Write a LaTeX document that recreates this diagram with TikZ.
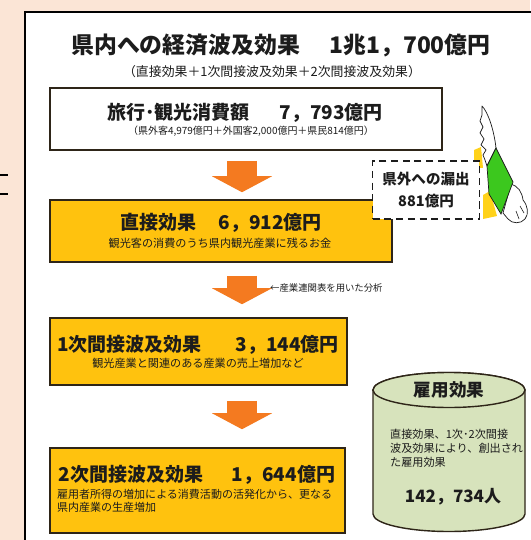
\documentclass[tikz,border=0pt]{standalone}
\usepackage{fontspec}
\setmainfont{Noto Sans CJK JP}
\usetikzlibrary{arrows.meta, positioning, calc}
\definecolor{peach}{HTML}{FBE5D6}
\definecolor{boxfill}{HTML}{FFC20E}
\definecolor{boxline}{HTML}{2E2518}
\definecolor{flowarrow}{HTML}{F47A20}
\definecolor{koyofill}{HTML}{D7E3BC}
\definecolor{moneygreen}{HTML}{3CC81E}
\definecolor{capeyellow}{HTML}{FFD21A}
\definecolor{ink}{HTML}{1C1C1C}

\begin{document}
\begin{tikzpicture}[x=0.03cm, y=-0.03cm, text=ink,
  box/.style={draw=boxline, line width=1.3pt, inner sep=0pt},
  big/.style={font=\bfseries\fontsize{16.2}{19}\selectfont},
  small/.style={font=\fontsize{9.5}{11}\selectfont},
  flow/.style={draw=flowarrow, line width=0.9cm,
    -{Triangle[width=1.8cm, length=0.48cm, line width=0pt]}},
  koyo/.style={draw=boxline, line width=1.2pt, fill=koyofill},
  wing/.style={fill=white, draw=ink, line width=0.6pt, line join=round}]
\useasboundingbox (0,0) rectangle (530,540);
\fill[peach] (0,0) rectangle (530,540);
\draw[line width=1.5pt] (0,175) -- (8,175) (0,194) -- (8,194);
\fill[white] (25,12) rectangle (560,560);
\draw[line width=1.8pt] (25,560) |- (560,12);

\node[font=\bfseries\fontsize{19.5}{22}\selectfont] (keizai) at (281,45) {県内への経済波及効果\hspace{1.3em}1兆1，700億円};
\node[font=\fontsize{11}{13}\selectfont] (uchiwake) at (272,72) {（直接効果＋1次間接波及効果＋2次間接波及効果）};

\node[box, fill=white, minimum width=11.76cm, minimum height=1.86cm] (shohi) at (246,119) {};
\node[big] (shohi-t) at (245,113) {旅行･観光消費額\hspace{1.6em}7，793億円};
\node[font=\fontsize{8.5}{10}\selectfont] (shohi-s) at (251,131) {（県外客4,979億円＋外国客2,000億円＋県民814億円）};

\node[box, fill=boxfill, minimum width=10.26cm, minimum height=1.86cm] (chokusetsu) at (221,231) {};
\node[big] (chokusetsu-t) at (221,223) {直接効果\hspace{1.2em}6，912億円};
\node[small] (chokusetsu-s) at (220,243) {観光客の消費のうち県内観光産業に残るお金};

\node[box, fill=boxfill, minimum width=8.91cm, minimum height=2.01cm] (ichiji) at (198.5,351.5) {};
\node[big] (ichiji-t) at (198,345) {1次間接波及効果\hspace{1.8em}3，144億円};
\node[small] (ichiji-s) at (198,363) {観光産業と関連のある産業の売上増加など};

\node[box, fill=boxfill, minimum width=8.85cm, minimum height=2.55cm] (niji) at (197.5,490.5) {};
\node[big] (niji-t) at (197,475) {2次間接波及効果\hspace{1.5em}1，644億円};
\node[small, anchor=west, align=left, font=\fontsize{9.4}{11}\selectfont] (niji-s) at (53,501) {雇用者所得の増加による消費活動の活発化から、更なる\\県内産業の生産増加};

\coordinate (spine) at (242,0);
\draw[flow, shorten <=0.3cm, shorten >=0.21cm] (shohi.south -| spine) -- (chokusetsu.north -| spine);
\draw[flow, shorten <=0.39cm, shorten >=0.39cm] (chokusetsu.south -| spine) -- (ichiji.north -| spine);
\draw[flow, shorten <=0.45cm, shorten >=0.54cm] (ichiji.south -| spine) -- (niji.north -| spine);
\node[anchor=west, font=\fontsize{8}{9}\selectfont] (bunseki) at (266,288) {←産業連関表を用いた分析};

\fill[capeyellow] (474,150) -- (481,147) -- (483,168) -- (474,168) -- cycle;
\fill[capeyellow] (483,195) -- (490,191) -- (497,216) -- (483,219) -- cycle;
\node[draw=ink, dashed, dash pattern=on 6pt off 4pt, fill=white, line width=1.3pt,
  minimum width=3.2cm, minimum height=1.74cm, align=center,
  font=\bfseries\fontsize{12.4}{18.5}\selectfont] (roshutsu) at (426,190) {県外への漏出\\881億円};

\filldraw[wing] (482,106) .. controls (488,112) and (494,130) .. (496,148) -- (487,166)
  -- (485,160) -- (483,155) -- (486,150) -- (481,145) -- (484,139) -- (480,133)
  -- (483,127) -- (480,121) -- (482,115) -- cycle;
\filldraw[wing] (511,184) .. controls (518,186) and (522,192) .. (523,200)
  .. controls (528,206) and (529,214) .. (525,219) .. controls (521,224) and (512,224) .. (508,219)
  -- (503,213) -- cycle;
\draw[ink, line width=0.5pt] (516,211) -- (519,219) (520,206) -- (524,213);
\filldraw[fill=moneygreen, draw=ink, line width=0.6pt] (496,148) -- (513,182) -- (501,214) -- (489,194) -- (487,166) -- cycle;

\filldraw[koyo] (373,390) -- (373,514) arc[start angle=180, end angle=360, x radius=2.28cm, y radius=0.525cm]
  -- (525,390) arc[start angle=0, end angle=180, x radius=2.28cm, y radius=0.525cm] -- cycle;
\filldraw[koyo] (449,390) ellipse[x radius=2.28cm, y radius=0.525cm];
\node[font=\bfseries\fontsize{15}{17}\selectfont] (koyo) at (449,390) {雇用効果};
\node[anchor=west, align=left, font=\fontsize{9.5}{12}\selectfont] (koyo-s) at (386,448) {直接効果、1次･2次間接\\波及効果により、創出され\\た雇用効果};
\node[font=\bfseries\fontsize{14.5}{17}\selectfont] (koyo-n) at (453,497) {142，734人};
\end{tikzpicture}
\end{document}
